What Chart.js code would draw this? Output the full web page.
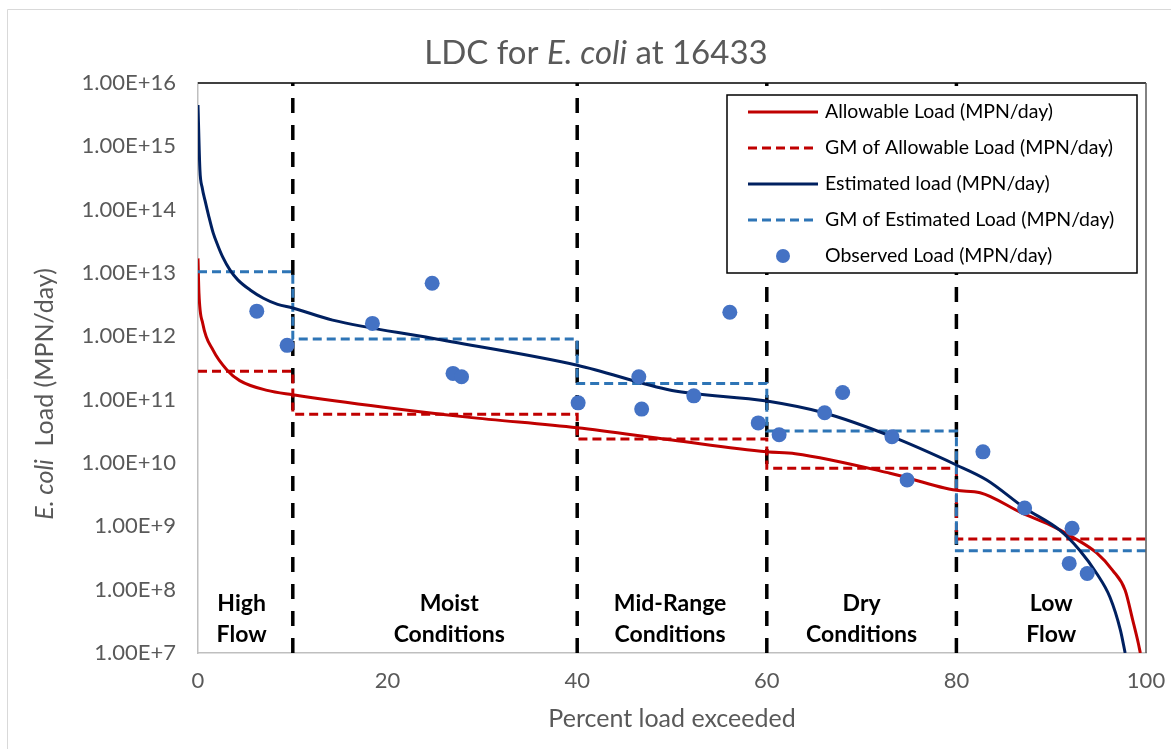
<!DOCTYPE html>
<html>
<head>
<meta charset="utf-8">
<title>LDC for E. coli at 16433</title>
<script src="https://cdn.jsdelivr.net/npm/chart.js@4.4.0/dist/chart.umd.min.js"></script>
<style>
  html, body { margin: 0; padding: 0; background: #ffffff; }
  #ldc { display: block; }
</style>
</head>
<body>
<canvas id="ldc" width="1171" height="749"></canvas>
<script>
// percent of time load exceeded
const allowPct = [0, 0.1, 0.5, 1.6, 3.1, 4.4, 7.3, 10, 19.6, 28.4, 40, 50, 60, 63, 73, 80, 82.5, 87.0, 89.6, 92.3, 94.8, 96.5, 97.8, 98.6, 99.2, 99.4];
const allowLoad = [1.7e13, 4.8e12, 1.6e12, 6.0e11, 2.9e11, 2.0e11, 1.4e11, 1.2e11, 7.6e10, 5.3e10, 3.6e10, 2.3e10, 1.5e10, 1.4e10, 6.9e9, 3.7e9, 3.4e9, 1.6e9, 1.1e9, 6.7e8, 3.8e8, 2.0e8, 9.8e7, 3.3e7, 1.4e7, 1.0e7];

const estPct = [0, 0.2, 0.45, 0.74, 1.1, 1.6, 2.1, 2.6, 3.4, 4.2, 5.5, 6.9, 8.4, 10, 14.2, 24.7, 40, 50, 60, 66, 73.2, 80, 83.2, 87.2, 90.9, 93.0, 94.8, 96.2, 97.3, 97.8];
const estLoad = [4.5e15, 4.3e14, 2.2e14, 1.4e14, 8.3e13, 4.3e13, 2.7e13, 1.8e13, 1.1e13, 7.8e12, 5.4e12, 4.0e12, 3.2e12, 2.8e12, 1.8e12, 9.3e11, 3.5e11, 1.4e11, 9.5e10, 6.2e10, 2.6e10, 9.3e9, 5.4e9, 1.95e9, 8.7e8, 4.2e8, 1.8e8, 7.6e7, 2.3e7, 1.0e7];

// flow zone limits and geometric means per zone
const zoneBounds = [0, 10, 40, 60, 80, 100];
const zoneNames = [["High", "Flow"], ["Moist", "Conditions"], ["Mid-Range", "Conditions"], ["Dry", "Conditions"], ["Low", "Flow"]];
const gmAllow = [2.8e11, 5.9e10, 2.4e10, 8.3e9, 6.3e8];
const gmEst = [1.05e13, 9.1e11, 1.8e11, 3.2e10, 4.1e8];

// observed samples
const obsPct = [6.2, 9.4, 18.4, 24.7, 26.9, 27.8, 40.1, 46.5, 46.8, 52.3, 56.1, 59.1, 61.3, 66.1, 68.0, 73.2, 74.8, 82.8, 87.2, 92.2, 91.9, 93.8];
const obsLoad = [2.5e12, 7.2e11, 1.6e12, 6.9e12, 2.6e11, 2.3e11, 8.9e10, 2.3e11, 7.1e10, 1.15e11, 2.4e12, 4.3e10, 2.8e10, 6.2e10, 1.3e11, 2.6e10, 5.4e9, 1.5e10, 1.95e9, 9.3e8, 2.6e8, 1.8e8];

const yTicks = [1e7, 1e8, 1e9, 1e10, 1e11, 1e12, 1e13, 1e14, 1e15, 1e16];

const FONT = "Lato, 'Open Sans', sans-serif";
const GREY = "#595959";

// pair x and y arrays into points
function toPoints(xs, ys) {
  return xs.map((x, i) => ({ x: x, y: ys[i] }));
}

// step line for the zone geometric means
function stepPoints(gm) {
  let pts = [];
  gm.forEach((v, i) => {
    pts.push({ x: zoneBounds[i], y: v });
    pts.push({ x: zoneBounds[i + 1], y: v });
  });
  return pts;
}

let datasets = [
  {
    label: "Allowable Load (MPN/day)",
    data: toPoints(allowPct, allowLoad),
    showLine: true,
    borderColor: "#C00000",
    borderWidth: 3,
    pointRadius: 0,
    cubicInterpolationMode: "monotone",
    order: 3
  },
  {
    label: "GM of Allowable Load (MPN/day)",
    data: stepPoints(gmAllow),
    showLine: true,
    borderColor: "#C00000",
    borderWidth: 3,
    borderDash: [9, 5],
    pointRadius: 0,
    order: 4
  },
  {
    label: "Estimated load (MPN/day)",
    data: toPoints(estPct, estLoad),
    showLine: true,
    borderColor: "#002060",
    borderWidth: 3,
    pointRadius: 0,
    cubicInterpolationMode: "monotone",
    order: 1
  },
  {
    label: "GM of Estimated Load (MPN/day)",
    data: stepPoints(gmEst),
    showLine: true,
    borderColor: "#2E75B6",
    borderWidth: 3,
    borderDash: [9, 5],
    pointRadius: 0,
    order: 2
  },
  {
    label: "Observed Load (MPN/day)",
    data: toPoints(obsPct, obsLoad),
    showLine: false,
    backgroundColor: "#4472C4",
    borderColor: "#4472C4",
    pointRadius: 7.5,
    pointBorderWidth: 0,
    order: 0
  }
];

// black dashed separators between flow zones
zoneBounds.slice(1, 5).forEach((b) => {
  datasets.push({
    label: "zone",
    data: [{ x: b, y: yTicks[0] }, { x: b, y: yTicks[yTicks.length - 1] }],
    showLine: true,
    borderColor: "#000000",
    borderWidth: 3.5,
    borderDash: [15, 12],
    pointRadius: 0,
    order: 5
  });
});

// title, axis titles, zone names, legend and frame
const decorations = {
  id: "decorations",
  beforeDraw(chart) {
    const ctx = chart.ctx;
    ctx.save();
    ctx.fillStyle = "#ffffff";
    ctx.fillRect(0, 0, chart.width, chart.height);
    ctx.strokeStyle = "#d9d9d9";
    ctx.lineWidth = 1;
    ctx.beginPath();
    ctx.moveTo(7.5, 749);
    ctx.lineTo(7.5, 9.5);
    ctx.lineTo(1171, 9.5);
    ctx.stroke();
    ctx.restore();
  },
  afterDraw(chart) {
    const ctx = chart.ctx;
    const a = chart.chartArea;
    const xs = chart.scales.x;
    ctx.save();

    // plot frame top and right
    ctx.strokeStyle = "#000000";
    ctx.lineWidth = 1.5;
    ctx.beginPath();
    ctx.moveTo(a.left, a.top);
    ctx.lineTo(a.right, a.top);
    ctx.stroke();
    ctx.strokeStyle = "#595959";
    ctx.beginPath();
    ctx.moveTo(a.right, a.top);
    ctx.lineTo(a.right, a.bottom);
    ctx.stroke();

    // chart title with italic species name
    drawMixed(ctx, [["LDC for ", ""], ["E. coli", "italic "], [" at 16433", ""]], 596, 53, 33);

    // y axis title
    ctx.save();
    ctx.translate(45, 394);
    ctx.rotate(-Math.PI / 2);
    drawMixed(ctx, [["E. coli", "italic "], ["  Load (MPN/day)", ""]], 0, 0, 25);
    ctx.restore();

    // x axis title
    ctx.fillStyle = GREY;
    ctx.font = "25px " + FONT;
    ctx.textAlign = "center";
    ctx.textBaseline = "middle";
    ctx.fillText("Percent load exceeded", (a.left + a.right) / 2, 719);

    // zone names
    const labelX = [4.6, 26.5, 49.8, 70, 90];
    ctx.fillStyle = "#000000";
    ctx.font = "bold 23px " + FONT;
    zoneNames.forEach((n, i) => {
      const px = xs.getPixelForValue(labelX[i]);
      ctx.fillText(n[0], px, a.bottom - 49);
      ctx.fillText(n[1], px, a.bottom - 18);
    });

    // legend box
    const lx = 727, ly = 95, lw = 410, lh = 178;
    ctx.fillStyle = "#ffffff";
    ctx.fillRect(lx, ly, lw, lh);
    ctx.strokeStyle = "#000000";
    ctx.lineWidth = 1.5;
    ctx.strokeRect(lx, ly, lw, lh);
    ctx.font = "19.5px " + FONT;
    ctx.textAlign = "left";
    for (let i = 0; i < 5; i++) {
      const ds = chart.data.datasets[i];
      const ry = 112 + i * 36;
      if (ds.showLine === false) {
        ctx.fillStyle = ds.backgroundColor;
        ctx.beginPath();
        ctx.arc(783, ry, 7, 0, Math.PI * 2);
        ctx.fill();
      } else {
        ctx.strokeStyle = ds.borderColor;
        ctx.lineWidth = 3;
        ctx.setLineDash(ds.borderDash || []);
        ctx.beginPath();
        ctx.moveTo(748, ry);
        ctx.lineTo(818, ry);
        ctx.stroke();
        ctx.setLineDash([]);
      }
      ctx.fillStyle = "#000000";
      ctx.fillText(ds.label, 825, ry);
    }
    ctx.restore();
  }
};

// text centred on (cx, cy) made of plain and italic parts
function drawMixed(ctx, parts, cx, cy, size) {
  let total = 0;
  parts.forEach((p) => {
    ctx.font = p[1] + size + "px " + FONT;
    total += ctx.measureText(p[0]).width;
  });
  let x = cx - total / 2;
  ctx.fillStyle = GREY;
  ctx.textAlign = "left";
  ctx.textBaseline = "middle";
  parts.forEach((p) => {
    ctx.font = p[1] + size + "px " + FONT;
    ctx.fillText(p[0], x, cy);
    x += ctx.measureText(p[0]).width;
  });
}

const chart = new Chart(document.getElementById("ldc").getContext("2d"), {
  type: "scatter",
  data: { datasets: datasets },
  plugins: [decorations],
  options: {
    responsive: false,
    animation: false,
    layout: { padding: { top: 83, right: 25, left: 0, bottom: 0 } },
    elements: { line: { fill: false } },
    plugins: {
      legend: { display: false },
      title: { display: false },
      tooltip: { enabled: false }
    },
    scales: {
      x: {
        type: "linear",
        min: 0,
        max: 100,
        afterFit: (s) => { s.height = 96; s.paddingLeft = 0; s.paddingRight = 0; },
        grid: { display: false, drawTicks: false },
        border: { display: true, color: "#bfbfbf", width: 1.5 },
        ticks: {
          stepSize: 20,
          padding: 15,
          color: GREY,
          font: { family: FONT, size: 22 }
        }
      },
      y: {
        type: "logarithmic",
        min: 1e7,
        max: 1e16,
        afterFit: (s) => { s.width = 198; s.paddingTop = 0; s.paddingBottom = 0; },
        afterBuildTicks: (s) => { s.ticks = yTicks.map((v) => ({ value: v })); },
        grid: { display: false, drawTicks: false },
        border: { display: true, color: "#bfbfbf", width: 1.5 },
        ticks: {
          padding: 22,
          color: GREY,
          font: { family: FONT, size: 22 },
          callback: (v) => Number(v).toExponential(2).toUpperCase()
        }
      }
    }
  }
});
</script>
</body>
</html>
